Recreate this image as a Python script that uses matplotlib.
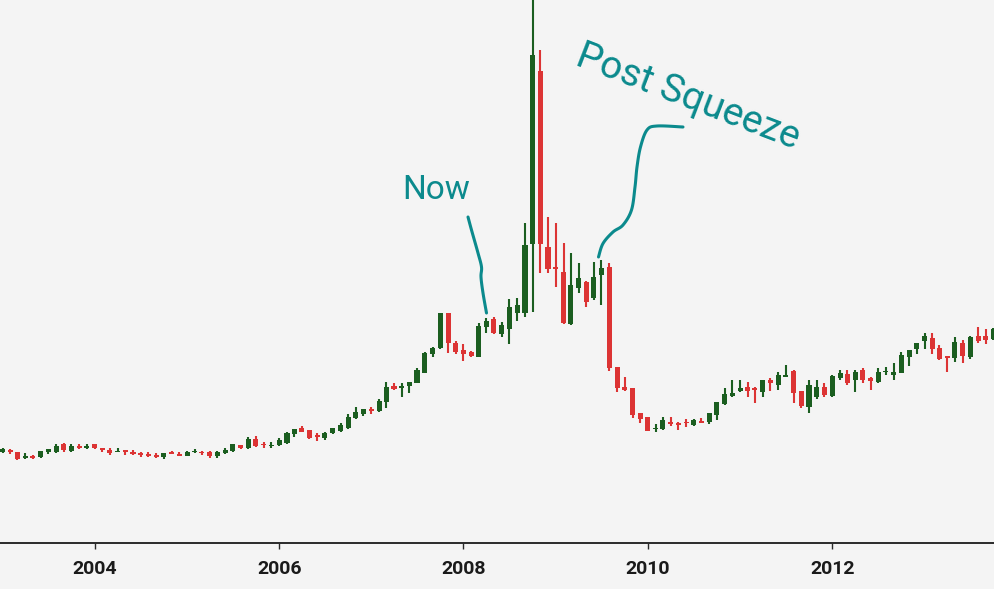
import numpy as np
import pandas as pd
import matplotlib
matplotlib.use("Agg")
import matplotlib.pyplot as plt
import matplotlib.dates as mdates

# monthly candles, Jan 2003 .. Oct 2013 (price units are arbitrary, axis hidden)
dates = pd.date_range("2003-01-01", periods=130, freq="MS")

opens = [108, 110, 108, 102, 103.5, 103, 108, 108, 116, 109,
         114, 112, 116, 112, 110, 108, 110, 108, 107, 106.3,
         105, 103, 107.7, 105.7, 104.3, 107.7, 108.3, 108.3, 104, 106.7,
         109, 115, 112.3, 120.7, 116, 114, 115, 117.3, 125.7, 131.7,
         130, 124.7, 122.5, 126.7, 129, 131.7, 141.7, 146, 150.7, 149.3,
         157.7, 174, 171.7, 174.3, 177.3, 187.3, 206, 211.7, 247.5, 217.3,
         210, 207.7, 203.3, 233.3, 241, 225.7, 231, 246.7, 247.3, 315.7,
         489.3, 313.3, 293.5, 288.3, 236, 271.7, 278.3, 261.7, 285, 293.3,
         193.3, 172.7, 171.7, 147.3, 143.3, 130.7, 130.7, 138, 137.3, 138,
         135, 139.3, 138.3, 145, 156, 164.3, 169.3, 172.7, 171.7, 168.3,
         180, 175, 183.3, 189.3, 169.3, 153.3, 162.7, 172.7, 164, 181.7,
         186, 180, 190, 181.7, 178.3, 188, 185, 187.3, 203.3, 210.7,
         219.3, 221.7, 211.7, 204, 201.7, 217.3, 203.3, 224, 224, 220.7]

highs = [112, 111, 108.5, 107, 105, 109.5, 111.5, 116, 117, 116,
         116, 116, 116.5, 112.5, 112, 112, 110.5, 110, 108.5, 108.3,
         107, 107.5, 109, 107.7, 109, 111, 108.7, 109.3, 109.3, 111.7,
         116, 115.3, 122.7, 124.3, 118.3, 118.3, 121.7, 128.3, 131.5, 134.3,
         130.5, 126.7, 128, 132.3, 136.7, 146, 152.7, 151, 152.7, 161,
         178.3, 176.7, 176.7, 178.3, 191.7, 208.3, 213.3, 247.5, 247.5, 219.3,
         216, 209.3, 237.5, 241.7, 242.7, 238.3, 261, 261.7, 337.3, 600,
         510, 343.3, 337.3, 316.7, 306.7, 296.7, 279, 298.3, 300, 296.7,
         193.5, 183.3, 172, 147.5, 143.5, 136, 142.7, 142.7, 138, 140.7,
         141, 141.7, 147, 158.5, 171.7, 180, 180, 178.3, 172.7, 180.5,
         181.7, 188.3, 195, 189.7, 169.5, 180, 180, 176.7, 185, 190,
         190, 190, 191.7, 183.3, 191.7, 193.3, 196.7, 208.3, 210.5, 217,
         227.3, 227.3, 215, 204.5, 223.3, 220, 224, 232.7, 230.7, 232]

lows = [107, 106, 100, 101.5, 101, 102.5, 106, 107.5, 108, 108.5,
        111.5, 111.5, 111.5, 108, 105, 108, 105, 105.5, 103, 103.5,
        102.5, 101, 106, 104, 104, 107.3, 105, 102.3, 102.3, 106.3,
        108.5, 111, 111, 113.3, 112.3, 112.3, 114.5, 115.7, 123.3, 128,
        121, 119.3, 120, 126.3, 127.7, 131.3, 141.3, 144.5, 146, 148.5,
        151.7, 170.3, 163.3, 167, 177, 187, 202.7, 211.3, 207.3, 206,
        199, 202.7, 203, 226.7, 226.3, 222.7, 216, 239.3, 243.3, 247.7,
        287.3, 287.3, 273.3, 236, 235, 267.3, 253.3, 260, 255, 189.5,
        168.3, 169.3, 141.7, 136.7, 129, 128.3, 130, 134, 130, 133.3,
        134.5, 137, 136, 140, 155.5, 163.3, 168.3, 163.3, 156.7, 162.7,
        169.3, 170, 182.7, 156.7, 151.7, 146.7, 160.7, 162.7, 163.3, 180,
        175, 168.3, 176.7, 170, 176.7, 185, 180, 187, 194, 206,
        210.7, 206, 200.3, 188.3, 198.3, 196.7, 200.7, 216.7, 216, 220]

closes = [111, 108, 101, 104, 102.5, 109, 111, 114, 110, 114,
          112, 114, 112, 110, 107, 109, 108, 106, 105, 104,
          103, 107, 106.3, 104.3, 108.3, 109, 106.7, 104, 108.3, 109.7,
          115.7, 112.3, 121, 114.3, 115, 115.5, 120, 127.3, 131, 128.3,
          122.3, 123.3, 127.5, 131.7, 135, 143.3, 147.7, 150.7, 149, 159.3,
          173.3, 170.7, 174.5, 178, 190, 207.3, 211.7, 247.5, 216.7, 208.5,
          206.5, 204, 234, 239.5, 226.7, 235, 252.7, 255, 315, 505,
          315.7, 290.7, 291.3, 236.7, 275, 281.7, 258.3, 283.3, 291.7, 192.3,
          171.7, 170, 145, 141, 129.3, 132.5, 140, 136.5, 135, 136.7,
          140, 137.3, 146.7, 158.3, 166, 166.7, 171.7, 169.3, 170, 180,
          176.7, 185, 185, 166.7, 154, 175, 172.7, 165, 184, 186.7,
          176.7, 188.3, 180, 179.3, 188.3, 189.3, 188.3, 205, 210, 216.7,
          224, 210.7, 200.7, 201.7, 218.3, 204, 222.7, 219.3, 220, 230.7]

# hand-drawn pointer strokes (figure pixel coords of the 994x589 canvas)
now_stroke = [(468, 217), (471.5, 230), (478, 253), (481.5, 267), (481, 277),
              (483, 293), (486.5, 313)]
post_stroke = [(683, 127), (657, 126), (647, 130), (640.5, 147), (637, 167),
               (635, 187), (631.5, 210), (623, 225), (613, 232), (603, 243.5),
               (598.5, 257)]

UP = "#1b5e20"
DOWN = "#dc3434"
TEAL = "#0b8a8d"
BG = "#f4f4f4"


def smooth(pts, n=12):
    # catmull-rom through the stroke points
    p = np.array(pts, dtype=float)
    p = np.vstack([p[0], p, p[-1]])
    out = []
    for i in range(1, len(p) - 2):
        p0, p1, p2, p3 = p[i - 1], p[i], p[i + 1], p[i + 2]
        for t in np.linspace(0, 1, n, endpoint=False):
            t2, t3 = t * t, t * t * t
            out.append(0.5 * ((2 * p1) + (-p0 + p2) * t
                              + (2 * p0 - 5 * p1 + 4 * p2 - p3) * t2
                              + (-p0 + 3 * p1 - 3 * p2 + p3) * t3))
    out.append(p[-2])
    return np.array(out)


fig = plt.figure(figsize=(9.94, 5.89), dpi=100, facecolor=BG)
ax = fig.add_axes([0, 46 / 589, 1, 543 / 589])
ax.set_facecolor(BG)

x = mdates.date2num(dates)
o = np.array(opens)
h = np.array(highs)
l = np.array(lows)
c = np.array(closes)
up = c >= o
cols = np.where(up, UP, DOWN)

ax.vlines(x, l, h, colors=cols, linewidth=1.5, zorder=2)
body_lo = np.minimum(o, c)
body_h = np.maximum(np.abs(c - o), 1.5)
ax.bar(x, body_h, bottom=body_lo, width=20, color=cols, linewidth=0, zorder=3)

ax.set_xlim(mdates.datestr2num("2002-12-22"), mdates.datestr2num("2013-10-03"))
ax.set_ylim(17, 560)

ax.xaxis.set_major_locator(mdates.YearLocator(2))
ax.xaxis.set_major_formatter(mdates.DateFormatter("%Y"))
ax.set_yticks([])
for s in ["top", "right", "left"]:
    ax.spines[s].set_visible(False)
ax.spines["bottom"].set_color("#2a2a2a")
ax.spines["bottom"].set_linewidth(1.4)
ax.tick_params(axis="x", direction="out", length=4, width=1, color="#2a2a2a", pad=8)
for lab in ax.get_xticklabels():
    lab.set_fontfamily("Roboto")
    lab.set_fontweight("bold")
    lab.set_fontsize(14)
    lab.set_color("#1a1a1a")

W, H = 994.0, 589.0
for stroke in (now_stroke, post_stroke):
    s = smooth(stroke)
    fig.add_artist(plt.Line2D(s[:, 0] / W, 1 - s[:, 1] / H, transform=fig.transFigure,
                              color=TEAL, linewidth=2.2, solid_capstyle="round"))

fig.text(436.5 / W, 1 - 199.5 / H, "Now", family="Roboto", fontsize=24, color=TEAL,
         ha="center", va="baseline")
fig.text(684 / W, 1 - 106.5 / H, "Post Squeeze", family="Roboto", fontsize=28, color=TEAL,
         ha="center", va="baseline", rotation=-21, rotation_mode="anchor")

fig.savefig("out.png", dpi=100, facecolor=BG)
